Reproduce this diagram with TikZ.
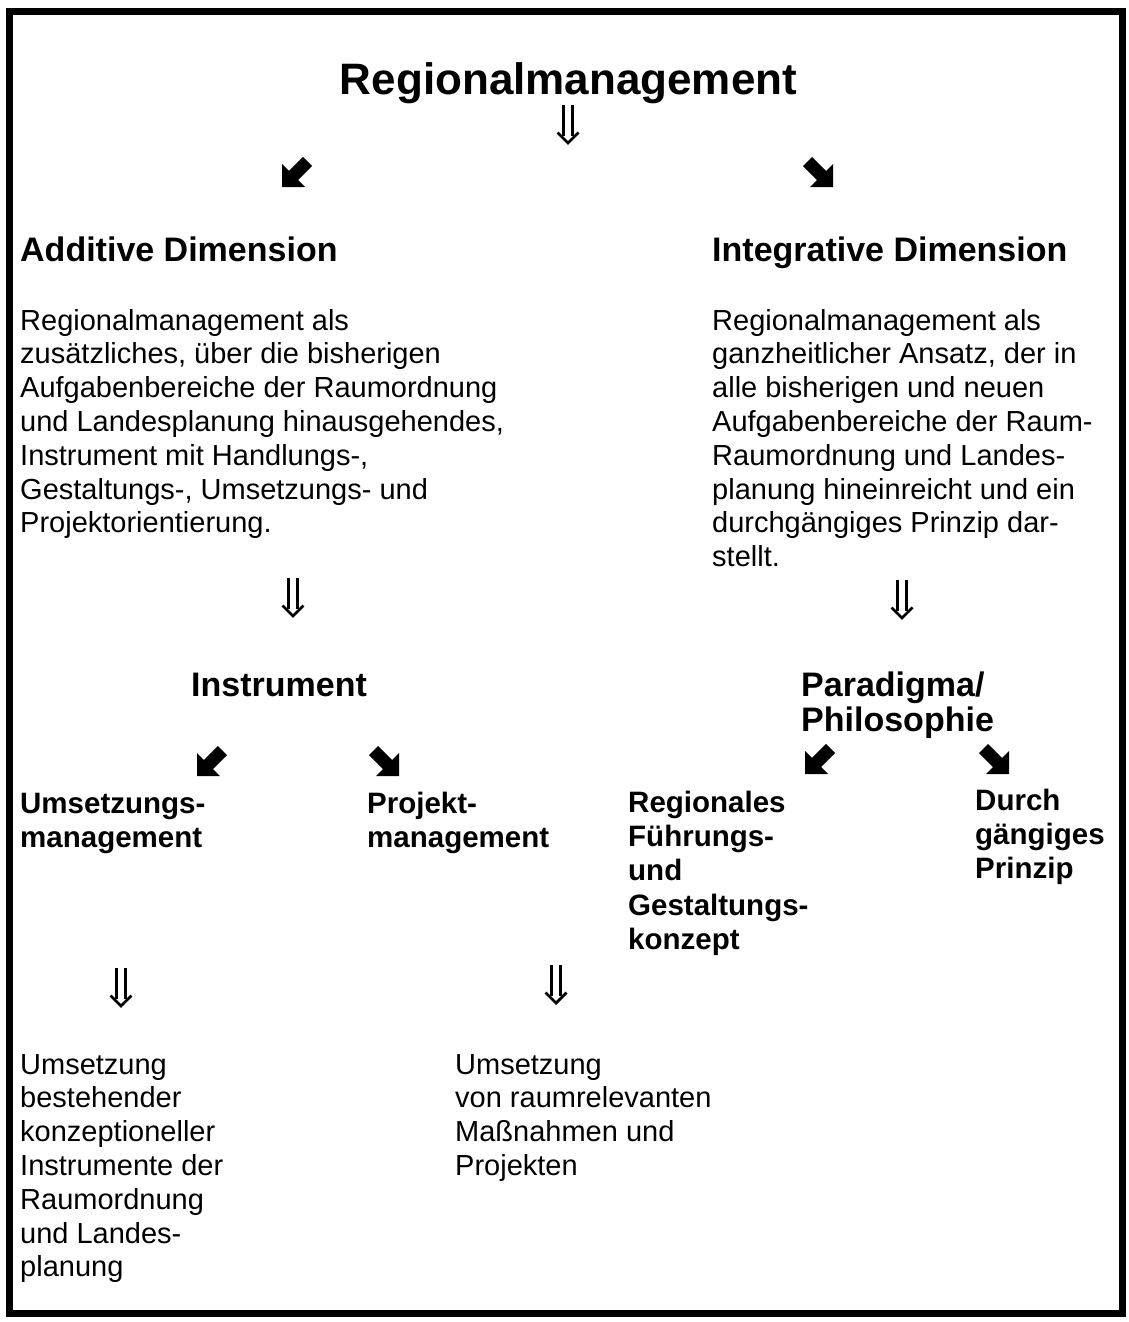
\documentclass[tikz,border=0pt]{standalone}
\usepackage{fontspec}
\setmainfont{Liberation Sans}
\newcommand\fbody{\fontsize{29}{33.8}\selectfont}
\newcommand\fhead{\fontsize{34}{35}\selectfont\bfseries}
\newcommand\fsub{\fontsize{29.5}{34.4}\selectfont\bfseries}
\newcommand\ftitle{\fontsize{44}{50}\selectfont\bfseries}
\newcommand\blk[1]{\parbox[t]{700pt}{\raggedright #1}}
\tikzset{
  txt/.style={anchor=base west, inner sep=0pt},
  dnarrow/.pic={
    \draw[line width=2.8pt] (-4.8,0) -- (-4.8,31) (4.8,0) -- (4.8,31);
    \draw[line width=2.8pt, line join=miter] (-10.5,27.5) -- (0,38) -- (10.5,27.5);
  },
  swarrow/.pic={
    \fill (0,0) -- (0,-23) -- (6.9,-16.1) -- (20.9,-30.1) -- (30.1,-20.9) -- (16.1,-6.9) -- (23,0) -- cycle;
  },
  searrow/.pic={
    \fill (0,0) -- (0,-23) -- (-6.9,-16.1) -- (-20.9,-30.1) -- (-30.1,-20.9) -- (-16.1,-6.9) -- (-23,0) -- cycle;
  },
}
\begin{document}
\begin{tikzpicture}[x=1pt,y=-1pt]
\useasboundingbox (0,0) rectangle (1128,1322);
\draw[line width=7pt] (9.5,12) rectangle (1122,1313);

\node[anchor=base, inner sep=0pt, font=\ftitle] (title) at (568.5,95) {Regionalmanagement};
\pic at (568,105) {dnarrow};
\pic at (282,187) {swarrow};
\pic at (833,187) {searrow};

\node[txt, font=\fhead] (add) at (20,261) {Additive Dimension};
\node[txt, font=\fhead] (int) at (712,261) {Integrative Dimension};

\node[txt, font=\fbody] (addtext) at (20,330) {\blk{Regionalmanagement als\\
zusätzliches, über die bisherigen\\
Aufgabenbereiche der Raumordnung\\
und Landesplanung hinausgehendes,\\
Instrument mit Handlungs-,\\
Gestaltungs-, Umsetzungs- und\\
Projektorientierung.}};

\node[txt, font=\fbody] (inttext) at (712,330) {\blk{Regionalmanagement als\\
ganzheitlicher Ansatz, der in\\
alle bisherigen und neuen\\
Aufgabenbereiche der Raum-\\
Raumordnung und Landes-\\
planung hineinreicht und ein\\
durchgängiges Prinzip dar-\\
stellt.}};

\pic at (293,578) {dnarrow};
\pic at (902,580) {dnarrow};

\node[txt, font=\fhead] (instr) at (191,696) {Instrument};
\node[txt, font=\fhead] (para) at (801,696) {\blk{Paradigma/\\Philosophie}};

\pic at (197,776) {swarrow};
\pic at (399,776) {searrow};
\pic at (805,774) {swarrow};
\pic at (1009,774) {searrow};

\node[txt, font=\fsub] (umsm) at (20,813) {\blk{Umsetzungs-\\management}};
\node[txt, font=\fsub] (projm) at (367,813) {\blk{Projekt-\\management}};
\node[txt, font=\fsub] (regf) at (628,812) {\blk{Regionales\\Führungs-\\und\\Gestaltungs-\\konzept}};
\node[txt, font=\fsub] (durch) at (975,810) {\blk{Durch\\gängiges\\Prinzip}};

\pic at (121,968) {dnarrow};
\pic at (556,965) {dnarrow};

\node[txt, font=\fbody] (umstext) at (20,1074) {\blk{Umsetzung\\
bestehender\\
konzeptioneller\\
Instrumente der\\
Raumordnung\\
und Landes-\\
planung}};
\node[txt, font=\fbody] (projtext) at (455,1074) {\blk{Umsetzung\\
von raumrelevanten\\
Maßnahmen und\\
Projekten}};
\end{tikzpicture}
\end{document}
